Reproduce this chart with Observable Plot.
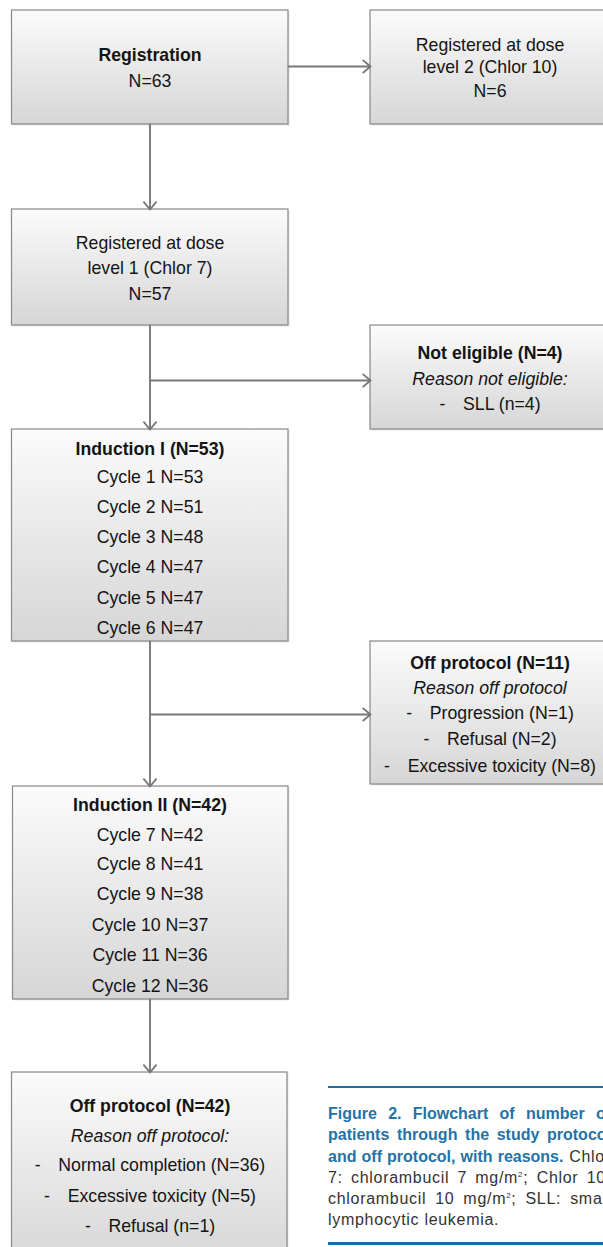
<!DOCTYPE html>
<html>
<head>
<meta charset="utf-8">
<script src="https://cdn.jsdelivr.net/npm/d3@7"></script>
<script src="https://cdn.jsdelivr.net/npm/@observablehq/plot@0.6"></script>
<style>
html, body { margin: 0; padding: 0; background: #fff; }
#wrap { position: relative; width: 603px; height: 1247px; overflow: hidden; }
#chart { position: absolute; left: 0; top: 0; }
#caption { position: absolute; left: 328px; top: 1086px; width: 283px;
  font-family: "Liberation Sans", Arial, sans-serif; font-size: 16px; }
.rule { height: 2.2px; background: #1f6d9e; }
.line { height: 21.2px; line-height: 21.2px; white-space: nowrap;
  text-align: justify; text-align-last: justify; }
.line.last { text-align: left; text-align-last: left; }
.b { font-weight: bold; color: #2373a8; }
.r { color: #333; letter-spacing: 0.7px; }
sup { font-size: 8px; line-height: 0; vertical-align: 6px; }
</style>
</head>
<body>
<div id="wrap"><div id="chart"></div><div id="caption"></div></div>
<script>
// ---------------- data ----------------
const registrationN = 63;
const doseLevel2N = 6;
const doseLevel1N = 57;
const notEligibleN = 4;
const notEligibleReasons = ["SLL"];
const notEligibleReasonsN = [4];
const inductionIN = 53;
const cyclesI = [1, 2, 3, 4, 5, 6];
const cyclesIN = [53, 51, 48, 47, 47, 47];
const offProtocolIN = 11;
const offReasonsI = ["Progression", "Refusal", "Excessive toxicity"];
const offReasonsIN = [1, 2, 8];
const inductionIIN = 42;
const cyclesII = [7, 8, 9, 10, 11, 12];
const cyclesIIN = [42, 41, 38, 37, 36, 36];
const offProtocolIIN = 42;
const offReasonsII = ["Normal completion", "Excessive toxicity", "Refusal"];
const offReasonsIIN = [36, 5, 1];
const offReasonsIISymbol = ["N", "N", "n"];

const captionLines = [
  [["b", "Figure 2. Flowchart of number of"]],
  [["b", "patients through the study protocol"]],
  [["b", "and off protocol, with reasons."], ["r", " Chlor"]],
  [["r", "7: chlorambucil 7 mg/m<sup>2</sup>; Chlor 10:"]],
  [["r", "chlorambucil 10 mg/m<sup>2</sup>; SLL: small"]],
  [["r", "lymphocytic leukemia."]]
];

// ---------------- layout (flowchart geometry) ----------------
const boxLayout = [
  {id: "reg",   x1: 11.5, x2: 288, y1: 10,   y2: 124, cx: 149.5},
  {id: "dose2", x1: 370,  x2: 608, y1: 10,   y2: 124, cx: 489.5},
  {id: "dose1", x1: 11.5, x2: 288, y1: 209,  y2: 325, cx: 149.5},
  {id: "inel",  x1: 370,  x2: 608, y1: 325,  y2: 429, cx: 489.5},
  {id: "ind1",  x1: 11.5, x2: 288, y1: 429,  y2: 641, cx: 149.5},
  {id: "off1",  x1: 370,  x2: 608, y1: 641,  y2: 784, cx: 489.5},
  {id: "ind2",  x1: 12.5, x2: 288, y1: 786,  y2: 999, cx: 149.5},
  {id: "off2",  x1: 11.5, x2: 287, y1: 1072, y2: 1265, cx: 149.5}
];
const lineY = {
  reg:   [55, 81],
  dose2: [45, 67, 91],
  dose1: [243, 268, 294],
  inel:  [353, 379, 404],
  ind1:  [449, 477, 507, 537, 567, 598, 628],
  off1:  [663, 688, 713, 739, 766],
  ind2:  [805, 835, 864, 894, 925, 955, 986],
  off2:  [1106, 1136, 1165, 1196, 1226]
};
const arrowLayout = [
  {x1: 288,   y1: 66,  x2: 370,   y2: 66},
  {x1: 149.5, y1: 124, x2: 149.5, y2: 209},
  {x1: 149.5, y1: 325, x2: 149.5, y2: 429},
  {x1: 149.5, y1: 380, x2: 370,   y2: 380},
  {x1: 149.5, y1: 641, x2: 149.5, y2: 786},
  {x1: 149.5, y1: 714, x2: 370,   y2: 714},
  {x1: 149.5, y1: 999, x2: 149.5, y2: 1072}
];

// ---------------- box contents ----------------
const GAP = "\u2002\u2002";
const dash = (s) => "-" + GAP + s;
const contents = {
  reg:   [["b", "Registration"], ["r", `N=${registrationN}`]],
  dose2: [["r", "Registered at dose"], ["r", "level 2 (Chlor 10)"], ["r", `N=${doseLevel2N}`]],
  dose1: [["r", "Registered at dose"], ["r", "level 1 (Chlor 7)"], ["r", `N=${doseLevel1N}`]],
  inel:  [["b", `Not eligible (N=${notEligibleN})`], ["i", "Reason not eligible:"],
          ...notEligibleReasons.map((r, k) => ["r", dash(`${r} (n=${notEligibleReasonsN[k]})`)])],
  ind1:  [["b", `Induction I (N=${inductionIN})`],
          ...cyclesI.map((c, k) => ["r", `Cycle ${c} N=${cyclesIN[k]}`])],
  off1:  [["b", `Off protocol (N=${offProtocolIN})`], ["i", "Reason off protocol"],
          ...offReasonsI.map((r, k) => ["r", dash(`${r} (N=${offReasonsIN[k]})`)])],
  ind2:  [["b", `Induction II (N=${inductionIIN})`],
          ...cyclesII.map((c, k) => ["r", `Cycle ${c} N=${cyclesIIN[k]}`])],
  off2:  [["b", `Off protocol (N=${offProtocolIIN})`], ["i", "Reason off protocol:"],
          ...offReasonsII.map((r, k) => ["r", dash(`${r} (${offReasonsIISymbol[k]}=${offReasonsIIN[k]})`)])]
};

const textRows = [];
for (const b of boxLayout) {
  contents[b.id].forEach(([style, text], k) => {
    textRows.push({style, text, x: b.cx, y: lineY[b.id][k]});
  });
}

const FONT = "'Liberation Sans', Arial, Helvetica, sans-serif";
const FS = 17.7;
const textOpts = {x: "x", y: "y", text: "text", fontSize: FS, fill: "#141414", fontFamily: FONT};

const plot = Plot.plot({
  width: 603,
  height: 1247,
  margin: 0,
  x: {domain: [0, 603], range: [0, 603], axis: null},
  y: {domain: [0, 1247], range: [0, 1247], axis: null},
  style: {background: "white", fontFamily: FONT},
  marks: [
    // soft shadow
    Plot.rect(boxLayout, {x1: d => d.x1 + 1.5, x2: d => d.x2 + 1.5, y1: d => d.y1 + 1.5, y2: d => d.y2 + 1.5,
      fill: "#e6e6e6"}),
    Plot.rect(boxLayout, {x1: "x1", x2: "x2", y1: "y1", y2: "y2",
      fill: "url(#boxGrad)", stroke: "#888888", strokeWidth: 1.2}),
    Plot.arrow(arrowLayout, {x1: "x1", y1: "y1", x2: "x2", y2: "y2",
      stroke: "#787878", strokeWidth: 1.9, headLength: 7.5, headAngle: 80}),
    Plot.text(textRows.filter(d => d.style === "r"), textOpts),
    Plot.text(textRows.filter(d => d.style === "b"), {...textOpts, fontWeight: "bold"}),
    Plot.text(textRows.filter(d => d.style === "i"), {...textOpts, fontStyle: "italic"})
  ]
});

// gradient definition for the box fill
const NS = "http://www.w3.org/2000/svg";
const defs = document.createElementNS(NS, "defs");
const grad = document.createElementNS(NS, "linearGradient");
grad.setAttribute("id", "boxGrad");
grad.setAttribute("x1", "0"); grad.setAttribute("y1", "0");
grad.setAttribute("x2", "0"); grad.setAttribute("y2", "1");
[["0%", "#fbfbfb"], ["100%", "#d6d6d6"]].forEach(([o, c]) => {
  const s = document.createElementNS(NS, "stop");
  s.setAttribute("offset", o); s.setAttribute("stop-color", c);
  grad.appendChild(s);
});
defs.appendChild(grad);
plot.insertBefore(defs, plot.firstChild);
document.getElementById("chart").appendChild(plot);

// caption
const cap = document.getElementById("caption");
let html = '<div class="rule"></div><div style="height:15px"></div>';
captionLines.forEach((parts, k) => {
  const cls = "line" + (k === captionLines.length - 1 ? " last" : "");
  html += `<div class="${cls}">` + parts.map(([s, t]) => `<span class="${s}">${t}</span>`).join("") + "</div>";
});
html += '<div style="height:12px"></div><div class="rule"></div>';
cap.innerHTML = html;
</script>
</body>
</html>
